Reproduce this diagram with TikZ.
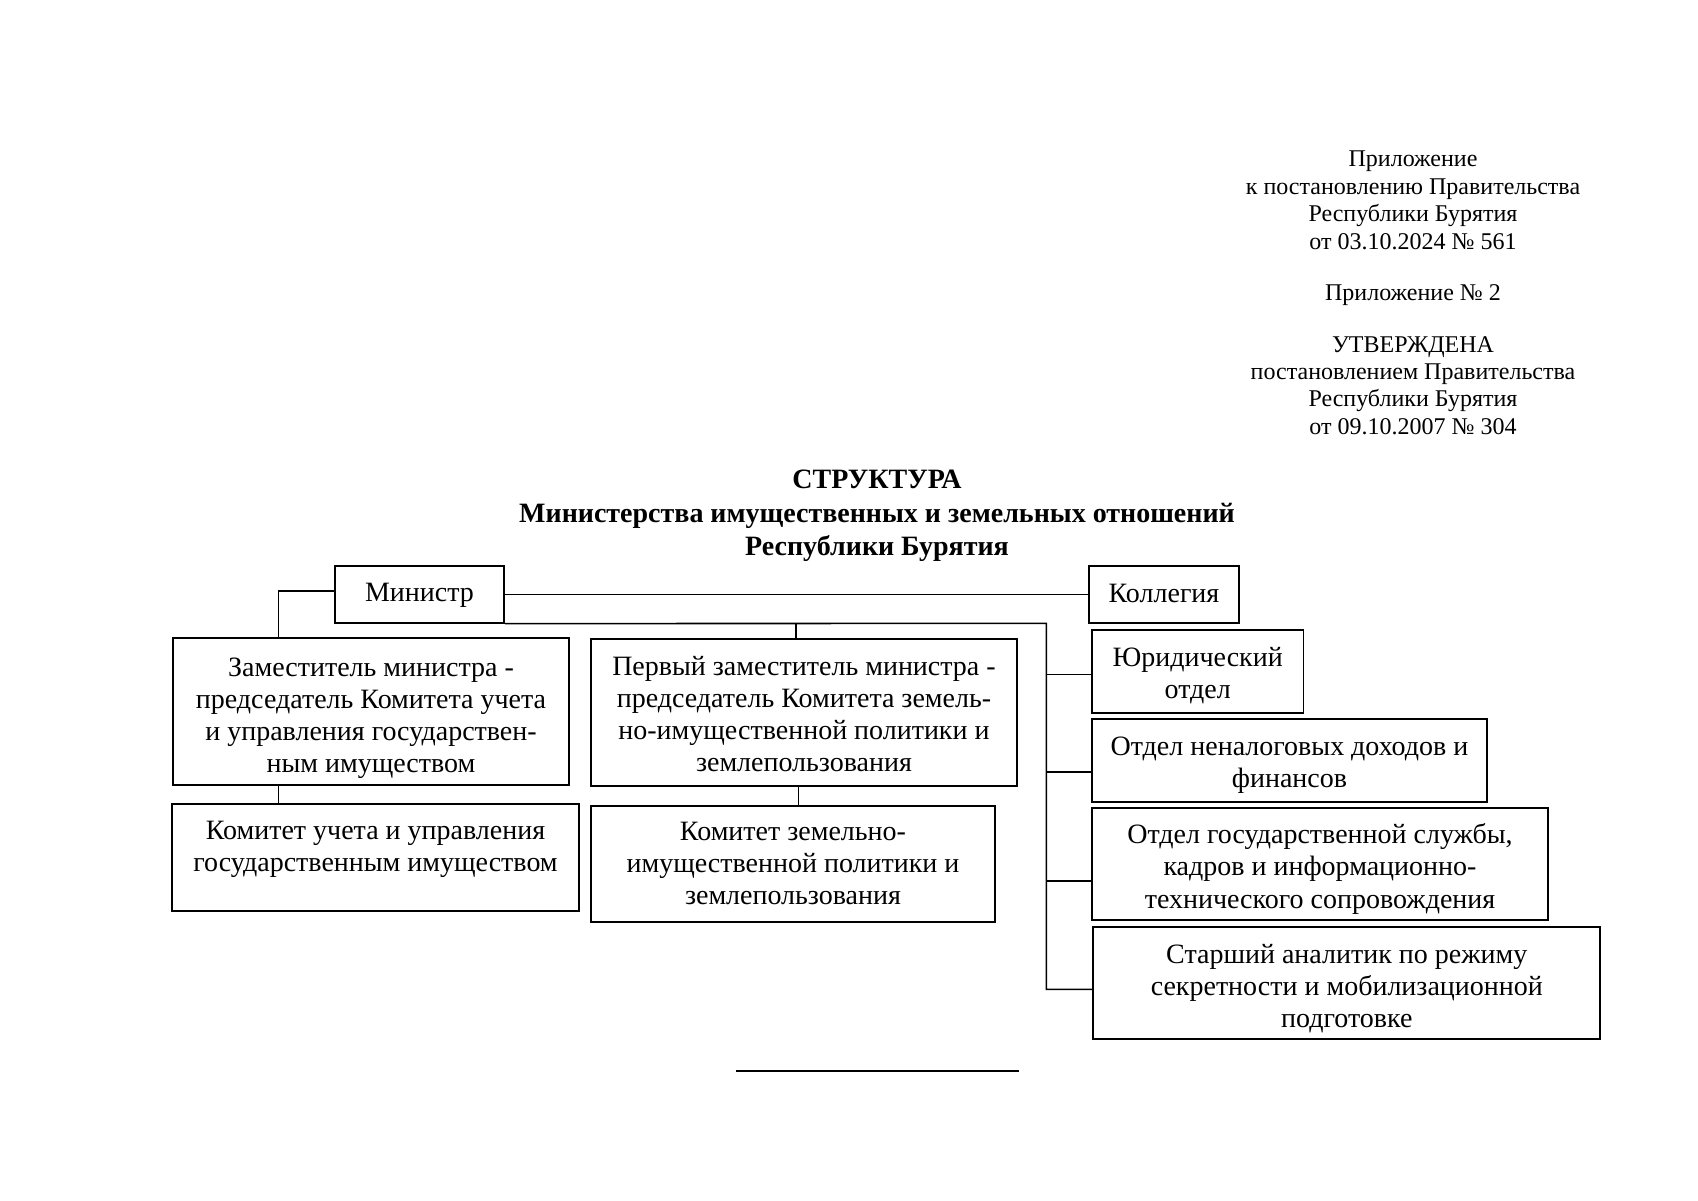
\documentclass[tikz,border=0pt]{standalone}
\usepackage{fontspec}
\setmainfont{Liberation Serif}
\newcommand\boxtext[2]{\raisebox{-#1}[\height][\depth]{\begin{tabular}{@{}c@{}}#2\end{tabular}}}
\begin{document}
\begin{tikzpicture}[x=0.5pt,y=-0.5pt,
  box/.style={draw, line width=0.9pt, inner sep=0pt, font=\fontsize{14}{16.1}\selectfont},
  conn/.style={line width=0.8pt},
  hdr/.style={align=center, font=\fontsize{12}{13.7}\selectfont, inner sep=0pt},
  ttl/.style={align=center, font=\fontsize{14}{16.8}\selectfont\bfseries, inner sep=0pt}]
\path[use as bounding box] (0,0) rectangle (1698,1200);

% header
\node[hdr] (h1) at (1413,200.3) {Приложение\\к постановлению Правительства\\Республики Бурятия\\от 03.10.2024 № 561};
\node[hdr] (h2) at (1413,295.5) {Приложение № 2};
\node[hdr] (h3) at (1413,385.5) {УТВЕРЖДЕНА\\постановлением Правительства\\Республики Бурятия\\от 09.10.2007 № 304};

% title
\node[ttl] (title) at (877,516) {СТРУКТУРА\\Министерства имущественных и земельных отношений\\Республики Бурятия};

% boxes
\node[box, minimum width=84.7pt, minimum height=28.35pt] (minister) at (419.5,594.4) {\boxtext{0.5pt}{Министр}};
\node[box, minimum width=75pt, minimum height=28.35pt] (kollegia) at (1164,594.4) {\boxtext{0.6pt}{Коллегия}};
\node[box, minimum width=198pt, minimum height=73.35pt] (zam) at (371,711.7) {\boxtext{3.2pt}{Заместитель министра -\\председатель Комитета учета\\и управления государствен-\\ным имуществом}};
\node[box, minimum width=213.25pt, minimum height=73.35pt] (perv) at (804,712.7) {\boxtext{2.1pt}{Первый заместитель министра -\\председатель Комитета земель-\\но-имущественной политики и\\землепользования}};
\node[box, minimum width=203.75pt, minimum height=53.35pt] (komuch) at (375.5,857.7) {\boxtext{3.7pt}{Комитет учета и управления\\государственным имуществом\\\mbox{}}};
\node[box, minimum width=202pt, minimum height=58.3pt] (komzem) at (793,864) {\boxtext{1pt}{Комитет земельно-\\имущественной политики и\\землепользования}};
\node[box, minimum width=105.7pt, minimum height=41.35pt] (yur) at (1197.7,671.7) {\boxtext{2.1pt}{Юридический\\отдел}};
\node[box, minimum width=197.5pt, minimum height=41.5pt] (nenal) at (1289.5,760.8) {\boxtext{2.2pt}{Отдел неналоговых доходов и\\финансов}};
\node[box, minimum width=228pt, minimum height=55.85pt] (gos) at (1320,864.2) {\boxtext{2.6pt}{Отдел государственной службы,\\кадров и информационно-\\технического сопровождения}};
\node[box, minimum width=253.5pt, minimum height=56.15pt] (star) at (1346.8,982.8) {\boxtext{3.2pt}{Старший аналитик по режиму\\секретности и мобилизационной\\подготовке}};

% connector anchor points
\coordinate (mw) at ([yshift=1.7pt]minister.west);
\coordinate (zl) at (278.5,638.3);
\coordinate (bt) at (1046.4,623.3);
\coordinate (yb) at ([yshift=-1.3pt]yur.west);
\coordinate (nb) at ([yshift=-5.45pt]nenal.west);
\coordinate (gb) at ([yshift=-8.4pt]gos.west);
\coordinate (sb) at ([yshift=-3.25pt]star.west);
\coordinate (pt) at ([xshift=-4.15pt]perv.north);
\coordinate (pb) at ([xshift=-2.7pt]perv.south);

% connectors
\draw[conn] (mw) -| (zl |- zam.north);
\draw[conn] (minister.east) -- (kollegia.west);
\draw[conn] (minister.south east) -- (bt) |- (sb);
\draw[conn] (bt |- yb) -- (yb);
\draw[conn] (bt |- nb) -- (nb);
\draw[conn] (bt |- gb) -- (gb);
\draw[conn] (pt) -- (pt |- bt);
\draw[conn] (zl |- zam.south) -- (zl |- komuch.north);
\draw[conn] (pb) -- (pb |- komzem.north);

% bottom rule
\coordinate (r1) at (736.4,1071);
\coordinate (r2) at (1019,1071);
\draw[conn] (r1) -- (r2);
\end{tikzpicture}
\end{document}
